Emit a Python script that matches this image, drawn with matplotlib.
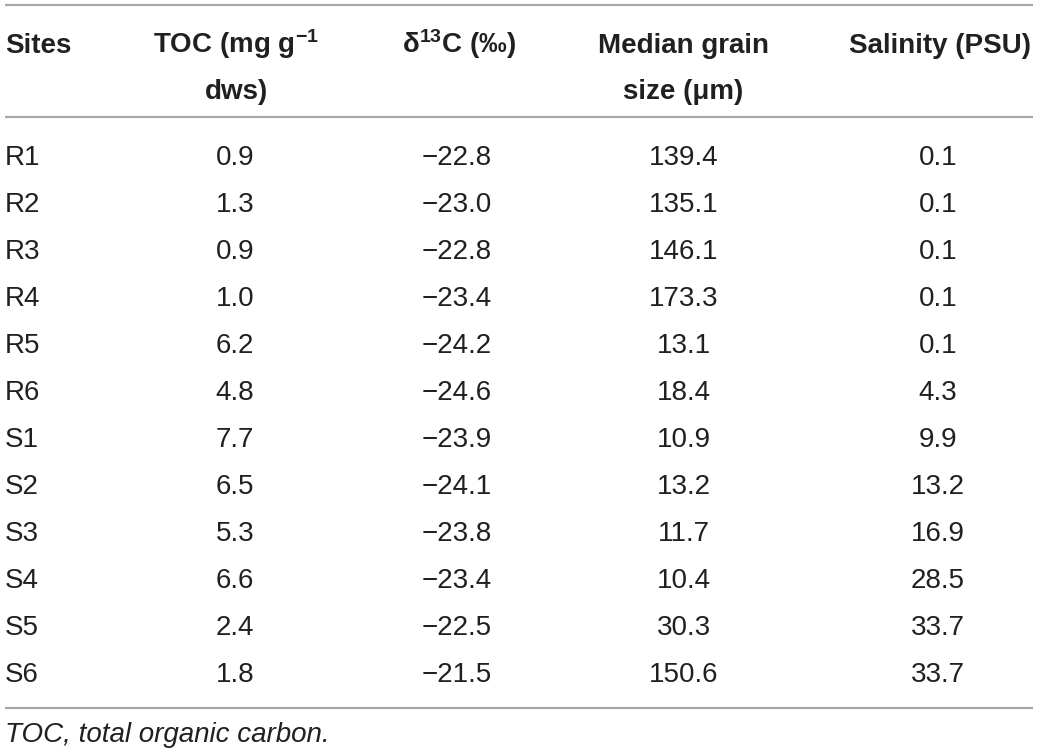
import matplotlib
matplotlib.use("Agg")
import matplotlib.pyplot as plt

plt.rcParams['font.family'] = ['Liberation Sans', 'DejaVu Sans']
plt.rcParams['mathtext.default'] = 'regular'

# table contents
sites = ["R1", "R2", "R3", "R4", "R5", "R6", "S1", "S2", "S3", "S4", "S5", "S6"]
toc = [0.9, 1.3, 0.9, 1.0, 6.2, 4.8, 7.7, 6.5, 5.3, 6.6, 2.4, 1.8]
d13c = [-22.8, -23.0, -22.8, -23.4, -24.2, -24.6, -23.9, -24.1, -23.8, -23.4, -22.5, -21.5]
grain = [139.4, 135.1, 146.1, 173.3, 13.1, 18.4, 10.9, 13.2, 11.7, 10.4, 30.3, 150.6]
salinity = [0.1, 0.1, 0.1, 0.1, 0.1, 4.3, 9.9, 13.2, 16.9, 28.5, 33.7, 33.7]
headers = [
    ["Sites", ""],
    ["TOC (mg g$^{-1}$", "dws)"],
    ["δ$^{13}$C (‰)", ""],
    ["Median grain", "size (μm)"],
    ["Salinity (PSU)", ""],
]
footnote = "TOC, total organic carbon."

W, H = 1039, 756
fig = plt.figure(figsize=(W / 100, H / 100), dpi=100)
ax = fig.add_axes([0, 0, 1, 1])
ax.set_xlim(0, W)
ax.set_ylim(H, 0)
ax.axis('off')

TXT = '#231f20'
RULE = '#a6a6a6'
FS = 20

# horizontal rules
for y in [5, 117, 708]:
    ax.plot([5, 1033], [y, y], color=RULE, lw=1.6, solid_capstyle='butt')

# header
head_x = [5, 236, 459, 683, 940]
head_ha = ['left', 'center', 'center', 'center', 'center']
for (l1, l2), x, ha in zip(headers, head_x, head_ha):
    ax.text(x, 53, l1, ha=ha, va='baseline', fontsize=FS, fontweight='bold', color=TXT)
    if l2:
        ax.text(x, 99, l2, ha=ha, va='baseline', fontsize=FS, fontweight='bold', color=TXT)

# body
col_x = [235, 457, 684, 938]


def fmt(v):
    s = f"{abs(v):.1f}"
    return "\u2212" + s if v < 0 else s


for i, site in enumerate(sites):
    y = 165 + i * 47.0
    ax.text(5, y, site, ha='left', va='baseline', fontsize=FS, color=TXT)
    for x, vals in zip(col_x, [toc, d13c, grain, salinity]):
        ax.text(x, y, fmt(vals[i]), ha='center', va='baseline', fontsize=FS, color=TXT)

ax.text(5, 742, footnote, ha='left', va='baseline', fontsize=FS, style='italic', color=TXT)

fig.savefig("out.png", dpi=100)
